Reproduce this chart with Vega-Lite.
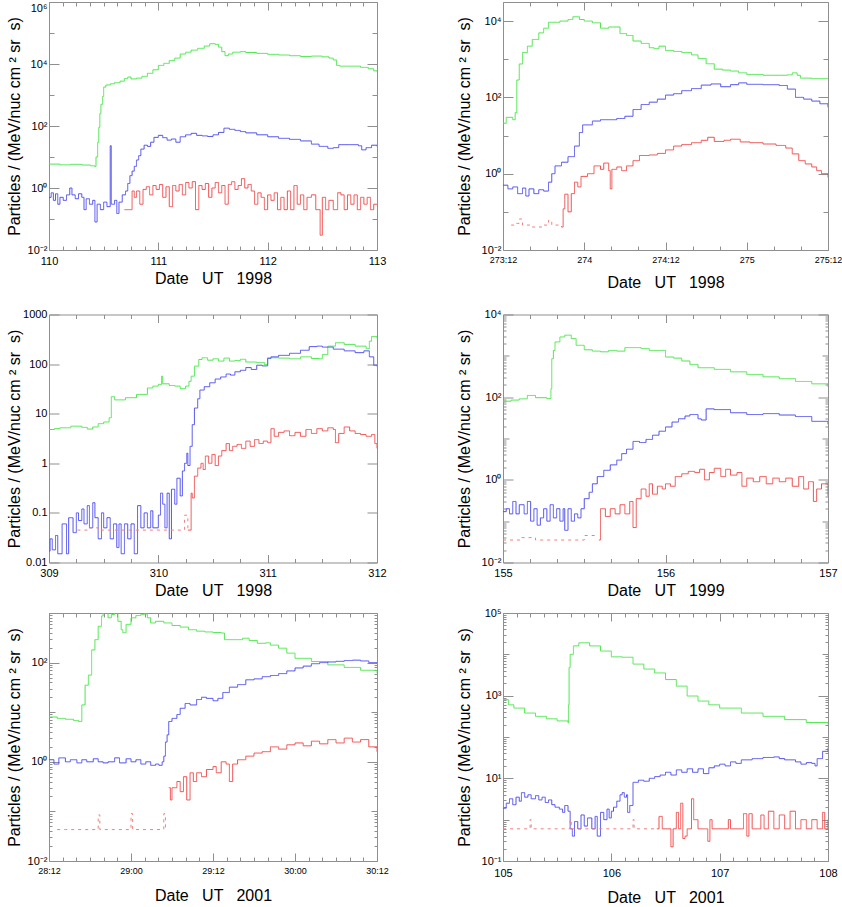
{
"$schema": "https://vega.github.io/schema/vega-lite/v6.json",
"padding": {"left": 5, "top": 1, "right": 0, "bottom": 0},
"config": {
 "font": "Liberation Sans",
 "view": {"stroke": "#8f8f8f", "strokeWidth": 1},
 "axis": {"domain": false, "grid": false, "tickColor": "#8f8f8f", "tickWidth": 1, "labelFont": "Liberation Sans", "labelFontSize": 11, "labelColor": "#000000", "titleFont": "Liberation Sans", "titleFontSize": 16, "titleFontWeight": "normal", "titleColor": "#000000", "labelOverlap": false, "labelFlush": false}
},
"spacing": 7,
"vconcat": [
{"spacing": 16.5, "vconcat": [
{"hconcat": [
{
"width": 328, "height": 248,
"data": {"values": [
{"t":110,"v":5.9,"s":"g"},{"t":110.1,"v":5.6,"s":"g"},{"t":110.2,"v":5.8,"s":"g"},{"t":110.3,"v":5.5,"s":"g"},{"t":110.38,"v":5.2,"s":"g"},{"t":110.42,"v":4.9,"s":"g"},{"t":110.43,"v":10,"s":"g"},{"t":110.445,"v":30,"s":"g"},{"t":110.455,"v":90,"s":"g"},{"t":110.465,"v":250,"s":"g"},{"t":110.475,"v":500,"s":"g"},{"t":110.49,"v":900,"s":"g"},{"t":110.5,"v":1800,"s":"g"},{"t":110.52,"v":2100,"s":"g"},{"t":110.56,"v":2300,"s":"g"},{"t":110.6,"v":2500,"s":"g"},{"t":110.65,"v":2800,"s":"g"},{"t":110.69,"v":3400,"s":"g"},{"t":110.72,"v":3800,"s":"g"},{"t":110.75,"v":3300,"s":"g"},{"t":110.8,"v":3500,"s":"g"},{"t":110.85,"v":4000,"s":"g"},{"t":110.9,"v":5000,"s":"g"},{"t":110.95,"v":6500,"s":"g"},{"t":111,"v":9000,"s":"g"},{"t":111.05,"v":10500,"s":"g"},{"t":111.1,"v":13000,"s":"g"},{"t":111.15,"v":15500,"s":"g"},{"t":111.2,"v":21000,"s":"g"},{"t":111.25,"v":24000,"s":"g"},{"t":111.3,"v":28000,"s":"g"},{"t":111.36,"v":32000,"s":"g"},{"t":111.42,"v":38000,"s":"g"},{"t":111.47,"v":45000,"s":"g"},{"t":111.52,"v":43000,"s":"g"},{"t":111.55,"v":35000,"s":"g"},{"t":111.58,"v":25000,"s":"g"},{"t":111.61,"v":18500,"s":"g"},{"t":111.64,"v":21000,"s":"g"},{"t":111.68,"v":24000,"s":"g"},{"t":111.75,"v":25000,"s":"g"},{"t":111.8,"v":23500,"s":"g"},{"t":111.9,"v":22000,"s":"g"},{"t":112,"v":20500,"s":"g"},{"t":112.1,"v":19500,"s":"g"},{"t":112.2,"v":18500,"s":"g"},{"t":112.3,"v":17500,"s":"g"},{"t":112.4,"v":18000,"s":"g"},{"t":112.5,"v":17000,"s":"g"},{"t":112.56,"v":15500,"s":"g"},{"t":112.6,"v":13500,"s":"g"},{"t":112.63,"v":9000,"s":"g"},{"t":112.66,"v":8500,"s":"g"},{"t":112.75,"v":8500,"s":"g"},{"t":112.85,"v":7800,"s":"g"},{"t":112.92,"v":7000,"s":"g"},{"t":112.97,"v":6000,"s":"g"},{"t":113,"v":5800,"s":"g"},
{"t":110,"v":0.5,"s":"b"},{"t":110.02,"v":0.7,"s":"b"},{"t":110.04,"v":0.4,"s":"b"},{"t":110.06,"v":0.65,"s":"b"},{"t":110.08,"v":0.3,"s":"b"},{"t":110.1,"v":0.5,"s":"b"},{"t":110.13,"v":0.4,"s":"b"},{"t":110.16,"v":0.6,"s":"b"},{"t":110.19,"v":1.0,"s":"b"},{"t":110.21,"v":0.6,"s":"b"},{"t":110.24,"v":0.45,"s":"b"},{"t":110.27,"v":0.65,"s":"b"},{"t":110.3,"v":0.5,"s":"b"},{"t":110.32,"v":0.2,"s":"b"},{"t":110.34,"v":0.45,"s":"b"},{"t":110.37,"v":0.3,"s":"b"},{"t":110.4,"v":0.4,"s":"b"},{"t":110.42,"v":0.08,"s":"b"},{"t":110.44,"v":0.3,"s":"b"},{"t":110.47,"v":0.2,"s":"b"},{"t":110.5,"v":0.35,"s":"b"},{"t":110.53,"v":0.25,"s":"b"},{"t":110.56,"v":23,"s":"b"},{"t":110.57,"v":0.3,"s":"b"},{"t":110.6,"v":0.4,"s":"b"},{"t":110.62,"v":0.15,"s":"b"},{"t":110.64,"v":0.35,"s":"b"},{"t":110.67,"v":0.6,"s":"b"},{"t":110.7,"v":0.8,"s":"b"},{"t":110.72,"v":1.4,"s":"b"},{"t":110.74,"v":2.5,"s":"b"},{"t":110.76,"v":3.5,"s":"b"},{"t":110.78,"v":5,"s":"b"},{"t":110.8,"v":8,"s":"b"},{"t":110.82,"v":11,"s":"b"},{"t":110.84,"v":18,"s":"b"},{"t":110.87,"v":24,"s":"b"},{"t":110.9,"v":22,"s":"b"},{"t":110.93,"v":30,"s":"b"},{"t":110.96,"v":43,"s":"b"},{"t":111,"v":50,"s":"b"},{"t":111.04,"v":42,"s":"b"},{"t":111.08,"v":35,"s":"b"},{"t":111.12,"v":38,"s":"b"},{"t":111.16,"v":30,"s":"b"},{"t":111.2,"v":45,"s":"b"},{"t":111.25,"v":52,"s":"b"},{"t":111.3,"v":58,"s":"b"},{"t":111.35,"v":50,"s":"b"},{"t":111.4,"v":48,"s":"b"},{"t":111.45,"v":46,"s":"b"},{"t":111.5,"v":52,"s":"b"},{"t":111.55,"v":62,"s":"b"},{"t":111.6,"v":85,"s":"b"},{"t":111.65,"v":78,"s":"b"},{"t":111.7,"v":72,"s":"b"},{"t":111.75,"v":66,"s":"b"},{"t":111.8,"v":60,"s":"b"},{"t":111.9,"v":52,"s":"b"},{"t":112,"v":45,"s":"b"},{"t":112.1,"v":40,"s":"b"},{"t":112.2,"v":37,"s":"b"},{"t":112.3,"v":33,"s":"b"},{"t":112.4,"v":26,"s":"b"},{"t":112.47,"v":22,"s":"b"},{"t":112.55,"v":19,"s":"b"},{"t":112.6,"v":20,"s":"b"},{"t":112.65,"v":25,"s":"b"},{"t":112.75,"v":25,"s":"b"},{"t":112.83,"v":23,"s":"b"},{"t":112.86,"v":17,"s":"b"},{"t":112.9,"v":20,"s":"b"},{"t":112.95,"v":24,"s":"b"},{"t":113,"v":22,"s":"b"},
{"t":110.69,"v":0.2,"s":"r"},{"t":110.74,"v":0.2,"s":"r"},{"t":110.76,"v":0.8,"s":"r"},{"t":110.78,"v":0.5,"s":"r"},{"t":110.8,"v":0.8,"s":"r"},{"t":110.83,"v":0.3,"s":"r"},{"t":110.86,"v":0.9,"s":"r"},{"t":110.89,"v":1.1,"s":"r"},{"t":110.92,"v":0.6,"s":"r"},{"t":110.95,"v":1.2,"s":"r"},{"t":110.98,"v":0.9,"s":"r"},{"t":111.01,"v":1.3,"s":"r"},{"t":111.04,"v":0.5,"s":"r"},{"t":111.07,"v":1.1,"s":"r"},{"t":111.1,"v":0.25,"s":"r"},{"t":111.13,"v":1.2,"s":"r"},{"t":111.16,"v":0.8,"s":"r"},{"t":111.19,"v":1.3,"s":"r"},{"t":111.22,"v":0.6,"s":"r"},{"t":111.25,"v":1.5,"s":"r"},{"t":111.28,"v":1.0,"s":"r"},{"t":111.31,"v":1.6,"s":"r"},{"t":111.34,"v":0.2,"s":"r"},{"t":111.37,"v":1.2,"s":"r"},{"t":111.4,"v":0.9,"s":"r"},{"t":111.43,"v":1.4,"s":"r"},{"t":111.46,"v":0.5,"s":"r"},{"t":111.49,"v":1.0,"s":"r"},{"t":111.52,"v":1.5,"s":"r"},{"t":111.55,"v":0.7,"s":"r"},{"t":111.58,"v":1.2,"s":"r"},{"t":111.61,"v":0.3,"s":"r"},{"t":111.64,"v":1.3,"s":"r"},{"t":111.67,"v":1.6,"s":"r"},{"t":111.7,"v":0.9,"s":"r"},{"t":111.73,"v":1.2,"s":"r"},{"t":111.76,"v":2.0,"s":"r"},{"t":111.79,"v":1.0,"s":"r"},{"t":111.82,"v":1.3,"s":"r"},{"t":111.85,"v":0.8,"s":"r"},{"t":111.88,"v":0.3,"s":"r"},{"t":111.91,"v":0.7,"s":"r"},{"t":111.94,"v":0.5,"s":"r"},{"t":111.97,"v":0.2,"s":"r"},{"t":112,"v":0.6,"s":"r"},{"t":112.03,"v":0.4,"s":"r"},{"t":112.06,"v":0.7,"s":"r"},{"t":112.09,"v":0.2,"s":"r"},{"t":112.12,"v":0.5,"s":"r"},{"t":112.15,"v":0.2,"s":"r"},{"t":112.18,"v":0.8,"s":"r"},{"t":112.21,"v":0.2,"s":"r"},{"t":112.24,"v":1.2,"s":"r"},{"t":112.27,"v":0.3,"s":"r"},{"t":112.3,"v":0.6,"s":"r"},{"t":112.33,"v":0.2,"s":"r"},{"t":112.36,"v":0.5,"s":"r"},{"t":112.4,"v":0.6,"s":"r"},{"t":112.44,"v":0.2,"s":"r"},{"t":112.48,"v":0.03,"s":"r"},{"t":112.5,"v":0.5,"s":"r"},{"t":112.53,"v":0.2,"s":"r"},{"t":112.56,"v":0.4,"s":"r"},{"t":112.6,"v":0.2,"s":"r"},{"t":112.64,"v":0.7,"s":"r"},{"t":112.67,"v":0.6,"s":"r"},{"t":112.7,"v":0.2,"s":"r"},{"t":112.73,"v":0.6,"s":"r"},{"t":112.76,"v":0.3,"s":"r"},{"t":112.79,"v":0.6,"s":"r"},{"t":112.82,"v":0.2,"s":"r"},{"t":112.85,"v":0.5,"s":"r"},{"t":112.88,"v":0.3,"s":"r"},{"t":112.91,"v":0.5,"s":"r"},{"t":112.94,"v":0.2,"s":"r"},{"t":112.97,"v":0.3,"s":"r"},{"t":113,"v":0.3,"s":"r"}
]},
"layer": [
{"mark": {"type": "line", "interpolate": "step-after", "strokeWidth": 1, "clip": true},
 "encoding": {
  "x": {"field": "t", "type": "quantitative", "scale": {"domain": [110, 113], "nice": false, "zero": false},
   "axis": {"orient": "bottom", "values": [110,110.125,110.25,110.375,110.5,110.625,110.75,110.875,111,111.125,111.25,111.375,111.5,111.625,111.75,111.875,112,112.125,112.25,112.375,112.5,112.625,112.75,112.875,113],
    "labelExpr": "datum.value == floor(datum.value) ? '' + datum.value : ''",
    "tickSize": {"condition": {"test": "datum.value == floor(datum.value)", "value": -8}, "value": -4},
    "labelPadding": 13, "title": "Date \u00a0 UT \u00a0 1998", "titleY": 28, "titleBaseline": "middle"}},
  "y": {"field": "v", "type": "quantitative", "scale": {"type": "log", "domain": [0.01, 1000000], "nice": false},
   "axis": {"orient": "left", "values": [0.01,0.1,1,10,100,1000,10000,100000,1000000],
    "labelExpr": "round(log(datum.value)/LN10) % 2 == 0 ? ['10⁻²','10⁻¹','10⁰','10¹','10²','10³','10⁴','10⁵','10⁶'][round(log(datum.value)/LN10)+2] : ''",
    "labelBaseline": {"condition": {"test": "datum.value > 100000", "value": "top"}, "value": "middle"},
    "tickSize": {"condition": {"test": "round(log(datum.value)/LN10) % 2 == 0", "value": -10}, "value": -5},
    "labelPadding": 12, "title": "Particles / (MeV/nuc cm ² sr \u00a0s)", "titleX": -34.5, "titleY": 124, "titleBaseline": "middle", "titleAngle": -90}},
  "color": {"field": "s", "type": "nominal", "scale": {"domain": ["g","b","r","rs"], "range": ["#4ce64c","#4d4df0","#f04d4d","#f08080"]}, "legend": null},
  "strokeDash": {"field": "s", "type": "nominal", "scale": {"domain": ["g","b","r","rs"], "range": [[1,0],[1,0],[1,0],[3,4]]}, "legend": null}
 }},
{"mark": {"type": "point", "opacity": 0},
 "encoding": {
  "x": {"field": "t", "type": "quantitative", "scale": {"domain": [110, 113], "nice": false, "zero": false},
   "axis": {"orient": "top", "values": [110,110.125,110.25,110.375,110.5,110.625,110.75,110.875,111,111.125,111.25,111.375,111.5,111.625,111.75,111.875,112,112.125,112.25,112.375,112.5,112.625,112.75,112.875,113], "labels": false, "title": null,
    "tickSize": {"condition": {"test": "datum.value == floor(datum.value)", "value": -8}, "value": -4}}},
  "y": {"field": "v", "type": "quantitative", "scale": {"type": "log", "domain": [0.01, 1000000], "nice": false},
   "axis": {"orient": "right", "values": [0.01,0.1,1,10,100,1000,10000,100000,1000000], "labels": false, "title": null,
    "tickSize": {"condition": {"test": "round(log(datum.value)/LN10) % 2 == 0", "value": -10}, "value": -5}}}
 }}
],
"resolve": {"axis": {"x": "independent", "y": "independent"}}
},
{
"width": 325, "height": 248,
"data": {"values": [
{"t":273.5,"v":21,"s":"g"},{"t":273.52,"v":30,"s":"g"},{"t":273.56,"v":26,"s":"g"},{"t":273.575,"v":40,"s":"g"},{"t":273.585,"v":285,"s":"g"},{"t":273.6,"v":750,"s":"g"},{"t":273.62,"v":1500,"s":"g"},{"t":273.65,"v":2200,"s":"g"},{"t":273.68,"v":3300,"s":"g"},{"t":273.72,"v":4900,"s":"g"},{"t":273.75,"v":6500,"s":"g"},{"t":273.78,"v":9300,"s":"g"},{"t":273.85,"v":10000,"s":"g"},{"t":273.9,"v":11000,"s":"g"},{"t":273.93,"v":13000,"s":"g"},{"t":273.97,"v":11000,"s":"g"},{"t":274,"v":10000,"s":"g"},{"t":274.05,"v":9000,"s":"g"},{"t":274.1,"v":6500,"s":"g"},{"t":274.15,"v":7000,"s":"g"},{"t":274.18,"v":7000,"s":"g"},{"t":274.22,"v":4700,"s":"g"},{"t":274.26,"v":4200,"s":"g"},{"t":274.3,"v":3000,"s":"g"},{"t":274.35,"v":2600,"s":"g"},{"t":274.4,"v":2000,"s":"g"},{"t":274.43,"v":1900,"s":"g"},{"t":274.46,"v":2200,"s":"g"},{"t":274.5,"v":1700,"s":"g"},{"t":274.55,"v":1600,"s":"g"},{"t":274.6,"v":1500,"s":"g"},{"t":274.66,"v":1300,"s":"g"},{"t":274.7,"v":1050,"s":"g"},{"t":274.75,"v":760,"s":"g"},{"t":274.8,"v":550,"s":"g"},{"t":274.85,"v":520,"s":"g"},{"t":274.9,"v":490,"s":"g"},{"t":274.95,"v":440,"s":"g"},{"t":275,"v":400,"s":"g"},{"t":275.1,"v":380,"s":"g"},{"t":275.2,"v":380,"s":"g"},{"t":275.25,"v":390,"s":"g"},{"t":275.28,"v":440,"s":"g"},{"t":275.31,"v":380,"s":"g"},{"t":275.33,"v":320,"s":"g"},{"t":275.4,"v":310,"s":"g"},{"t":275.5,"v":300,"s":"g"},
{"t":273.5,"v":0.5,"s":"b"},{"t":273.53,"v":0.4,"s":"b"},{"t":273.56,"v":0.45,"s":"b"},{"t":273.59,"v":0.3,"s":"b"},{"t":273.62,"v":0.42,"s":"b"},{"t":273.64,"v":0.26,"s":"b"},{"t":273.66,"v":0.4,"s":"b"},{"t":273.69,"v":0.3,"s":"b"},{"t":273.72,"v":0.38,"s":"b"},{"t":273.75,"v":0.35,"s":"b"},{"t":273.78,"v":0.6,"s":"b"},{"t":273.8,"v":1.0,"s":"b"},{"t":273.82,"v":1.6,"s":"b"},{"t":273.86,"v":2.0,"s":"b"},{"t":273.9,"v":2.8,"s":"b"},{"t":273.94,"v":5.3,"s":"b"},{"t":273.97,"v":12,"s":"b"},{"t":273.99,"v":19,"s":"b"},{"t":274.05,"v":24,"s":"b"},{"t":274.1,"v":26,"s":"b"},{"t":274.2,"v":28,"s":"b"},{"t":274.25,"v":32,"s":"b"},{"t":274.3,"v":48,"s":"b"},{"t":274.35,"v":65,"s":"b"},{"t":274.4,"v":75,"s":"b"},{"t":274.45,"v":90,"s":"b"},{"t":274.5,"v":115,"s":"b"},{"t":274.55,"v":125,"s":"b"},{"t":274.6,"v":150,"s":"b"},{"t":274.66,"v":170,"s":"b"},{"t":274.72,"v":210,"s":"b"},{"t":274.78,"v":225,"s":"b"},{"t":274.84,"v":190,"s":"b"},{"t":274.9,"v":215,"s":"b"},{"t":274.95,"v":240,"s":"b"},{"t":275,"v":220,"s":"b"},{"t":275.1,"v":215,"s":"b"},{"t":275.2,"v":205,"s":"b"},{"t":275.25,"v":165,"s":"b"},{"t":275.3,"v":100,"s":"b"},{"t":275.35,"v":90,"s":"b"},{"t":275.4,"v":80,"s":"b"},{"t":275.45,"v":68,"s":"b"},{"t":275.5,"v":55,"s":"b"},
{"t":273.55,"v":0.045,"s":"rs"},{"t":273.58,"v":0.05,"s":"rs"},{"t":273.6,"v":0.065,"s":"rs"},{"t":273.62,"v":0.045,"s":"rs"},{"t":273.68,"v":0.04,"s":"rs"},{"t":273.75,"v":0.045,"s":"rs"},{"t":273.78,"v":0.06,"s":"rs"},{"t":273.8,"v":0.045,"s":"rs"},{"t":273.86,"v":0.04,"s":"rs"},
{"t":273.86,"v":0.04,"s":"r"},{"t":273.87,"v":0.12,"s":"r"},{"t":273.88,"v":0.29,"s":"r"},{"t":273.9,"v":0.1,"s":"r"},{"t":273.92,"v":0.3,"s":"r"},{"t":273.94,"v":0.6,"s":"r"},{"t":273.96,"v":0.45,"s":"r"},{"t":273.98,"v":0.85,"s":"r"},{"t":274.02,"v":1.0,"s":"r"},{"t":274.06,"v":1.6,"s":"r"},{"t":274.1,"v":1.3,"s":"r"},{"t":274.12,"v":1.9,"s":"r"},{"t":274.15,"v":1.2,"s":"r"},{"t":274.16,"v":0.4,"s":"r"},{"t":274.17,"v":1.3,"s":"r"},{"t":274.2,"v":1.5,"s":"r"},{"t":274.23,"v":1.2,"s":"r"},{"t":274.26,"v":1.6,"s":"r"},{"t":274.3,"v":2.2,"s":"r"},{"t":274.34,"v":3.0,"s":"r"},{"t":274.4,"v":3.1,"s":"r"},{"t":274.45,"v":3.4,"s":"r"},{"t":274.5,"v":4.2,"s":"r"},{"t":274.55,"v":5.3,"s":"r"},{"t":274.6,"v":5.8,"s":"r"},{"t":274.66,"v":6.5,"s":"r"},{"t":274.72,"v":7.5,"s":"r"},{"t":274.76,"v":9.0,"s":"r"},{"t":274.8,"v":7.0,"s":"r"},{"t":274.86,"v":7.5,"s":"r"},{"t":274.9,"v":8.0,"s":"r"},{"t":274.96,"v":6.8,"s":"r"},{"t":275.02,"v":6.5,"s":"r"},{"t":275.1,"v":6.0,"s":"r"},{"t":275.18,"v":5.5,"s":"r"},{"t":275.24,"v":4.7,"s":"r"},{"t":275.28,"v":3.3,"s":"r"},{"t":275.32,"v":2.2,"s":"r"},{"t":275.36,"v":1.8,"s":"r"},{"t":275.4,"v":1.5,"s":"r"},{"t":275.43,"v":1.2,"s":"r"},{"t":275.46,"v":1.0,"s":"r"},{"t":275.5,"v":0.8,"s":"r"}
]},
"layer": [
{"mark": {"type": "line", "interpolate": "step-after", "strokeWidth": 1, "clip": true},
 "encoding": {
  "x": {"field": "t", "type": "quantitative", "scale": {"domain": [273.5, 275.5], "nice": false, "zero": false},
   "axis": {"orient": "bottom", "values": [273.5,273.6667,273.8333,274,274.1667,274.3333,274.5,274.6667,274.8333,275,275.1667,275.3333,275.5],
    "labelExpr": "abs(datum.value*2 - round(datum.value*2)) < 0.001 ? (datum.value == floor(datum.value) ? '' + datum.value : floor(datum.value) + ':12') : ''",
    "labelFontSize": 9,
    "tickSize": {"condition": {"test": "abs(datum.value*2 - round(datum.value*2)) < 0.001", "value": -8}, "value": -4},
    "labelPadding": 13, "title": "Date \u00a0 UT \u00a0 1998", "titleY": 32, "titleBaseline": "middle"}},
  "y": {"field": "v", "type": "quantitative", "scale": {"type": "log", "domain": [0.01, 31623], "nice": false},
   "axis": {"orient": "left", "values": [0.01,0.1,1,10,100,1000,10000],
    "labelExpr": "round(log(datum.value)/LN10) % 2 == 0 ? ['10⁻²','10⁻¹','10⁰','10¹','10²','10³','10⁴','10⁵','10⁶'][round(log(datum.value)/LN10)+2] : ''",
    "tickSize": {"condition": {"test": "round(log(datum.value)/LN10) % 2 == 0", "value": -10}, "value": -5},
    "labelPadding": 12, "title": "Particles / (MeV/nuc cm ² sr \u00a0s)", "titleX": -39, "titleY": 124, "titleBaseline": "middle", "titleAngle": -90}},
  "color": {"field": "s", "type": "nominal", "scale": {"domain": ["g","b","r","rs"], "range": ["#4ce64c","#4d4df0","#f04d4d","#f08080"]}, "legend": null},
  "strokeDash": {"field": "s", "type": "nominal", "scale": {"domain": ["g","b","r","rs"], "range": [[1,0],[1,0],[1,0],[3,4]]}, "legend": null}
 }},
{"mark": {"type": "point", "opacity": 0},
 "encoding": {
  "x": {"field": "t", "type": "quantitative", "scale": {"domain": [273.5, 275.5], "nice": false, "zero": false},
   "axis": {"orient": "top", "values": [273.5,273.6667,273.8333,274,274.1667,274.3333,274.5,274.6667,274.8333,275,275.1667,275.3333,275.5], "labels": false, "title": null,
    "tickSize": {"condition": {"test": "abs(datum.value*2 - round(datum.value*2)) < 0.001", "value": -8}, "value": -4}}},
  "y": {"field": "v", "type": "quantitative", "scale": {"type": "log", "domain": [0.01, 31623], "nice": false},
   "axis": {"orient": "right", "values": [0.01,0.1,1,10,100,1000,10000], "labels": false, "title": null,
    "tickSize": {"condition": {"test": "round(log(datum.value)/LN10) % 2 == 0", "value": -10}, "value": -5}}}
 }}
],
"resolve": {"axis": {"x": "independent", "y": "independent"}}
}
], "spacing": 126, "bounds": "flush"},
{"hconcat": [
{
"width": 328, "height": 248,
"data": {"values": [
{"t":309,"v":4.8,"s":"g"},{"t":309.05,"v":5.0,"s":"g"},{"t":309.1,"v":5.2,"s":"g"},{"t":309.2,"v":5.6,"s":"g"},{"t":309.3,"v":5.3,"s":"g"},{"t":309.35,"v":4.9,"s":"g"},{"t":309.4,"v":5.4,"s":"g"},{"t":309.45,"v":6.3,"s":"g"},{"t":309.5,"v":6.8,"s":"g"},{"t":309.55,"v":8.3,"s":"g"},{"t":309.57,"v":22,"s":"g"},{"t":309.6,"v":19,"s":"g"},{"t":309.7,"v":21,"s":"g"},{"t":309.8,"v":24.5,"s":"g"},{"t":309.9,"v":33,"s":"g"},{"t":309.95,"v":36,"s":"g"},{"t":310,"v":39,"s":"g"},{"t":310.03,"v":57,"s":"g"},{"t":310.04,"v":40,"s":"g"},{"t":310.1,"v":37,"s":"g"},{"t":310.15,"v":36,"s":"g"},{"t":310.2,"v":32,"s":"g"},{"t":310.25,"v":36,"s":"g"},{"t":310.28,"v":45,"s":"g"},{"t":310.3,"v":57,"s":"g"},{"t":310.33,"v":91,"s":"g"},{"t":310.37,"v":124,"s":"g"},{"t":310.4,"v":134,"s":"g"},{"t":310.45,"v":120,"s":"g"},{"t":310.5,"v":128,"s":"g"},{"t":310.55,"v":115,"s":"g"},{"t":310.6,"v":132,"s":"g"},{"t":310.65,"v":115,"s":"g"},{"t":310.7,"v":118,"s":"g"},{"t":310.75,"v":125,"s":"g"},{"t":310.8,"v":110,"s":"g"},{"t":310.9,"v":108,"s":"g"},{"t":310.97,"v":98,"s":"g"},{"t":311,"v":134,"s":"g"},{"t":311.1,"v":132,"s":"g"},{"t":311.2,"v":128,"s":"g"},{"t":311.3,"v":140,"s":"g"},{"t":311.4,"v":130,"s":"g"},{"t":311.47,"v":128,"s":"g"},{"t":311.5,"v":156,"s":"g"},{"t":311.55,"v":230,"s":"g"},{"t":311.62,"v":270,"s":"g"},{"t":311.7,"v":250,"s":"g"},{"t":311.8,"v":230,"s":"g"},{"t":311.9,"v":204,"s":"g"},{"t":311.93,"v":290,"s":"g"},{"t":311.95,"v":360,"s":"g"},{"t":312,"v":330,"s":"g"},
{"t":309,"v":0.017,"s":"b"},{"t":309.01,"v":0.03,"s":"b"},{"t":309.03,"v":0.018,"s":"b"},{"t":309.06,"v":0.035,"s":"b"},{"t":309.08,"v":0.015,"s":"b"},{"t":309.12,"v":0.06,"s":"b"},{"t":309.16,"v":0.015,"s":"b"},{"t":309.18,"v":0.08,"s":"b"},{"t":309.22,"v":0.04,"s":"b"},{"t":309.25,"v":0.1,"s":"b"},{"t":309.27,"v":0.07,"s":"b"},{"t":309.3,"v":0.12,"s":"b"},{"t":309.32,"v":0.06,"s":"b"},{"t":309.35,"v":0.14,"s":"b"},{"t":309.37,"v":0.05,"s":"b"},{"t":309.4,"v":0.16,"s":"b"},{"t":309.42,"v":0.08,"s":"b"},{"t":309.45,"v":0.03,"s":"b"},{"t":309.48,"v":0.1,"s":"b"},{"t":309.5,"v":0.05,"s":"b"},{"t":309.53,"v":0.08,"s":"b"},{"t":309.56,"v":0.03,"s":"b"},{"t":309.59,"v":0.06,"s":"b"},{"t":309.62,"v":0.02,"s":"b"},{"t":309.64,"v":0.06,"s":"b"},{"t":309.66,"v":0.015,"s":"b"},{"t":309.69,"v":0.06,"s":"b"},{"t":309.72,"v":0.03,"s":"b"},{"t":309.75,"v":0.06,"s":"b"},{"t":309.78,"v":0.015,"s":"b"},{"t":309.81,"v":0.14,"s":"b"},{"t":309.84,"v":0.05,"s":"b"},{"t":309.87,"v":0.1,"s":"b"},{"t":309.9,"v":0.05,"s":"b"},{"t":309.93,"v":0.11,"s":"b"},{"t":309.95,"v":0.05,"s":"b"},{"t":310,"v":0.09,"s":"b"},{"t":310.02,"v":0.25,"s":"b"},{"t":310.04,"v":0.15,"s":"b"},{"t":310.06,"v":0.05,"s":"b"},{"t":310.08,"v":0.25,"s":"b"},{"t":310.1,"v":0.03,"s":"b"},{"t":310.12,"v":0.3,"s":"b"},{"t":310.15,"v":0.15,"s":"b"},{"t":310.17,"v":0.5,"s":"b"},{"t":310.2,"v":0.22,"s":"b"},{"t":310.22,"v":0.7,"s":"b"},{"t":310.24,"v":1.0,"s":"b"},{"t":310.26,"v":1.6,"s":"b"},{"t":310.27,"v":0.9,"s":"b"},{"t":310.29,"v":2.2,"s":"b"},{"t":310.31,"v":6,"s":"b"},{"t":310.33,"v":13,"s":"b"},{"t":310.36,"v":20,"s":"b"},{"t":310.38,"v":30,"s":"b"},{"t":310.42,"v":35,"s":"b"},{"t":310.47,"v":42,"s":"b"},{"t":310.52,"v":50,"s":"b"},{"t":310.57,"v":55,"s":"b"},{"t":310.62,"v":63,"s":"b"},{"t":310.66,"v":60,"s":"b"},{"t":310.7,"v":70,"s":"b"},{"t":310.75,"v":75,"s":"b"},{"t":310.8,"v":85,"s":"b"},{"t":310.85,"v":78,"s":"b"},{"t":310.9,"v":95,"s":"b"},{"t":310.95,"v":92,"s":"b"},{"t":311,"v":130,"s":"b"},{"t":311.03,"v":140,"s":"b"},{"t":311.1,"v":150,"s":"b"},{"t":311.2,"v":165,"s":"b"},{"t":311.3,"v":190,"s":"b"},{"t":311.38,"v":225,"s":"b"},{"t":311.45,"v":230,"s":"b"},{"t":311.5,"v":220,"s":"b"},{"t":311.6,"v":200,"s":"b"},{"t":311.7,"v":185,"s":"b"},{"t":311.8,"v":170,"s":"b"},{"t":311.88,"v":185,"s":"b"},{"t":311.93,"v":140,"s":"b"},{"t":311.97,"v":95,"s":"b"},{"t":312,"v":90,"s":"b"},
{"t":309.26,"v":0.045,"s":"rs"},{"t":309.35,"v":0.05,"s":"rs"},{"t":309.45,"v":0.045,"s":"rs"},{"t":309.7,"v":0.045,"s":"rs"},{"t":309.9,"v":0.045,"s":"rs"},{"t":310.05,"v":0.045,"s":"rs"},{"t":310.2,"v":0.045,"s":"rs"},{"t":310.24,"v":0.09,"s":"rs"},{"t":310.27,"v":0.045,"s":"rs"},
{"t":310.27,"v":0.045,"s":"r"},{"t":310.3,"v":0.25,"s":"r"},{"t":310.31,"v":0.2,"s":"r"},{"t":310.33,"v":0.55,"s":"r"},{"t":310.36,"v":0.8,"s":"r"},{"t":310.39,"v":1.0,"s":"r"},{"t":310.41,"v":0.75,"s":"r"},{"t":310.43,"v":1.4,"s":"r"},{"t":310.46,"v":1.0,"s":"r"},{"t":310.49,"v":1.5,"s":"r"},{"t":310.52,"v":0.9,"s":"r"},{"t":310.55,"v":1.4,"s":"r"},{"t":310.58,"v":1.8,"s":"r"},{"t":310.62,"v":2.5,"s":"r"},{"t":310.65,"v":1.8,"s":"r"},{"t":310.68,"v":2.2,"s":"r"},{"t":310.72,"v":2.4,"s":"r"},{"t":310.76,"v":2.0,"s":"r"},{"t":310.8,"v":2.8,"s":"r"},{"t":310.84,"v":2.2,"s":"r"},{"t":310.88,"v":3.0,"s":"r"},{"t":310.92,"v":2.5,"s":"r"},{"t":310.96,"v":2.8,"s":"r"},{"t":311,"v":2.6,"s":"r"},{"t":311.03,"v":5.0,"s":"r"},{"t":311.06,"v":3.5,"s":"r"},{"t":311.1,"v":4.2,"s":"r"},{"t":311.15,"v":4.5,"s":"r"},{"t":311.2,"v":3.6,"s":"r"},{"t":311.25,"v":4.2,"s":"r"},{"t":311.3,"v":3.5,"s":"r"},{"t":311.35,"v":4.8,"s":"r"},{"t":311.4,"v":4.0,"s":"r"},{"t":311.45,"v":5.0,"s":"r"},{"t":311.5,"v":4.5,"s":"r"},{"t":311.55,"v":5.2,"s":"r"},{"t":311.6,"v":4.8,"s":"r"},{"t":311.62,"v":2.6,"s":"r"},{"t":311.65,"v":4.0,"s":"r"},{"t":311.7,"v":5.4,"s":"r"},{"t":311.75,"v":4.5,"s":"r"},{"t":311.8,"v":4.0,"s":"r"},{"t":311.85,"v":3.8,"s":"r"},{"t":311.9,"v":3.5,"s":"r"},{"t":311.95,"v":3.8,"s":"r"},{"t":311.98,"v":2.5,"s":"r"},{"t":312,"v":2.0,"s":"r"}
]},
"layer": [
{"mark": {"type": "line", "interpolate": "step-after", "strokeWidth": 1, "clip": true},
 "encoding": {
  "x": {"field": "t", "type": "quantitative", "scale": {"domain": [309, 312], "nice": false, "zero": false},
   "axis": {"orient": "bottom", "values": [309,309.25,309.5,309.75,310,310.25,310.5,310.75,311,311.25,311.5,311.75,312],
    "labelExpr": "datum.value == floor(datum.value) ? '' + datum.value : ''",
    "tickSize": {"condition": {"test": "datum.value == floor(datum.value)", "value": -8}, "value": -4},
    "labelPadding": 13, "title": "Date \u00a0 UT \u00a0 1998", "titleY": 28, "titleBaseline": "middle"}},
  "y": {"field": "v", "type": "quantitative", "scale": {"type": "log", "domain": [0.01, 1000], "nice": false},
   "axis": {"orient": "left", "values": [0.01,0.1,1,10,100,1000],
    "labelExpr": "datum.value >= 1 ? format(datum.value, 'd') : format(datum.value, '.2~f')",
    "tickSize": -10,
    "labelPadding": 12, "title": "Particles / (MeV/nuc cm ² sr \u00a0s)", "titleX": -34.5, "titleY": 124, "titleBaseline": "middle", "titleAngle": -90}},
  "color": {"field": "s", "type": "nominal", "scale": {"domain": ["g","b","r","rs"], "range": ["#5ae85a","#7070f0","#f08080","#f5a0a0"]}, "legend": null},
  "strokeDash": {"field": "s", "type": "nominal", "scale": {"domain": ["g","b","r","rs"], "range": [[1,0],[1,0],[1,0],[3,4]]}, "legend": null}
 }},
{"mark": {"type": "point", "opacity": 0},
 "encoding": {
  "x": {"field": "t", "type": "quantitative", "scale": {"domain": [309, 312], "nice": false, "zero": false},
   "axis": {"orient": "top", "values": [309,309.25,309.5,309.75,310,310.25,310.5,310.75,311,311.25,311.5,311.75,312], "labels": false, "title": null,
    "tickSize": {"condition": {"test": "datum.value == floor(datum.value)", "value": -8}, "value": -4}}},
  "y": {"field": "v", "type": "quantitative", "scale": {"type": "log", "domain": [0.01, 1000], "nice": false},
   "axis": {"orient": "right", "values": [0.01,0.1,1,10,100,1000], "labels": false, "title": null, "tickSize": -10}}
 }}
],
"resolve": {"axis": {"x": "independent", "y": "independent"}}
},
{
"width": 325, "height": 248,
"data": {"values": [
{"t":155,"v":80,"s":"g"},{"t":155.05,"v":85,"s":"g"},{"t":155.1,"v":91,"s":"g"},{"t":155.15,"v":110,"s":"g"},{"t":155.2,"v":97,"s":"g"},{"t":155.27,"v":92,"s":"g"},{"t":155.295,"v":160,"s":"g"},{"t":155.3,"v":850,"s":"g"},{"t":155.31,"v":1350,"s":"g"},{"t":155.32,"v":2170,"s":"g"},{"t":155.35,"v":2870,"s":"g"},{"t":155.38,"v":3160,"s":"g"},{"t":155.42,"v":2600,"s":"g"},{"t":155.45,"v":1800,"s":"g"},{"t":155.5,"v":1400,"s":"g"},{"t":155.55,"v":1300,"s":"g"},{"t":155.6,"v":1250,"s":"g"},{"t":155.65,"v":1350,"s":"g"},{"t":155.7,"v":1300,"s":"g"},{"t":155.75,"v":1580,"s":"g"},{"t":155.8,"v":1580,"s":"g"},{"t":155.85,"v":1500,"s":"g"},{"t":155.9,"v":1350,"s":"g"},{"t":156,"v":935,"s":"g"},{"t":156.05,"v":880,"s":"g"},{"t":156.1,"v":750,"s":"g"},{"t":156.15,"v":620,"s":"g"},{"t":156.2,"v":515,"s":"g"},{"t":156.3,"v":470,"s":"g"},{"t":156.4,"v":410,"s":"g"},{"t":156.5,"v":355,"s":"g"},{"t":156.6,"v":310,"s":"g"},{"t":156.7,"v":280,"s":"g"},{"t":156.8,"v":240,"s":"g"},{"t":156.9,"v":210,"s":"g"},{"t":157,"v":175,"s":"g"},
{"t":155,"v":0.17,"s":"b"},{"t":155.02,"v":0.2,"s":"b"},{"t":155.04,"v":0.15,"s":"b"},{"t":155.06,"v":0.3,"s":"b"},{"t":155.08,"v":0.15,"s":"b"},{"t":155.1,"v":0.25,"s":"b"},{"t":155.13,"v":0.15,"s":"b"},{"t":155.15,"v":0.3,"s":"b"},{"t":155.17,"v":0.1,"s":"b"},{"t":155.19,"v":0.2,"s":"b"},{"t":155.21,"v":0.08,"s":"b"},{"t":155.23,"v":0.12,"s":"b"},{"t":155.25,"v":0.2,"s":"b"},{"t":155.27,"v":0.1,"s":"b"},{"t":155.29,"v":0.25,"s":"b"},{"t":155.31,"v":0.12,"s":"b"},{"t":155.33,"v":0.2,"s":"b"},{"t":155.35,"v":0.1,"s":"b"},{"t":155.37,"v":0.2,"s":"b"},{"t":155.38,"v":0.06,"s":"b"},{"t":155.4,"v":0.2,"s":"b"},{"t":155.42,"v":0.1,"s":"b"},{"t":155.44,"v":0.15,"s":"b"},{"t":155.46,"v":0.12,"s":"b"},{"t":155.48,"v":0.2,"s":"b"},{"t":155.5,"v":0.35,"s":"b"},{"t":155.53,"v":0.5,"s":"b"},{"t":155.55,"v":0.8,"s":"b"},{"t":155.58,"v":1.2,"s":"b"},{"t":155.62,"v":1.7,"s":"b"},{"t":155.66,"v":2.3,"s":"b"},{"t":155.7,"v":3.0,"s":"b"},{"t":155.73,"v":4.3,"s":"b"},{"t":155.76,"v":5.5,"s":"b"},{"t":155.8,"v":8.5,"s":"b"},{"t":155.84,"v":8.0,"s":"b"},{"t":155.88,"v":9.5,"s":"b"},{"t":155.92,"v":12,"s":"b"},{"t":155.96,"v":15,"s":"b"},{"t":156,"v":19,"s":"b"},{"t":156.04,"v":25,"s":"b"},{"t":156.08,"v":30,"s":"b"},{"t":156.12,"v":35,"s":"b"},{"t":156.15,"v":38,"s":"b"},{"t":156.2,"v":30,"s":"b"},{"t":156.22,"v":28,"s":"b"},{"t":156.25,"v":52,"s":"b"},{"t":156.3,"v":50,"s":"b"},{"t":156.4,"v":42,"s":"b"},{"t":156.5,"v":38,"s":"b"},{"t":156.6,"v":40,"s":"b"},{"t":156.7,"v":37,"s":"b"},{"t":156.8,"v":34,"s":"b"},{"t":156.9,"v":26,"s":"b"},{"t":157,"v":22,"s":"b"},
{"t":155,"v":0.035,"s":"rs"},{"t":155.1,"v":0.035,"s":"rs"},{"t":155.11,"v":0.04,"s":"rs"},{"t":155.2,"v":0.035,"s":"rs"},{"t":155.3,"v":0.035,"s":"rs"},{"t":155.4,"v":0.035,"s":"rs"},{"t":155.5,"v":0.045,"s":"rs"},{"t":155.58,"v":0.045,"s":"rs"},
{"t":155.59,"v":0.035,"s":"r"},{"t":155.6,"v":0.2,"s":"r"},{"t":155.63,"v":0.13,"s":"r"},{"t":155.66,"v":0.2,"s":"r"},{"t":155.69,"v":0.15,"s":"r"},{"t":155.72,"v":0.25,"s":"r"},{"t":155.75,"v":0.15,"s":"r"},{"t":155.78,"v":0.3,"s":"r"},{"t":155.8,"v":0.07,"s":"r"},{"t":155.82,"v":0.35,"s":"r"},{"t":155.85,"v":0.6,"s":"r"},{"t":155.88,"v":0.4,"s":"r"},{"t":155.9,"v":0.8,"s":"r"},{"t":155.92,"v":0.45,"s":"r"},{"t":155.95,"v":0.7,"s":"r"},{"t":155.98,"v":0.6,"s":"r"},{"t":156,"v":0.8,"s":"r"},{"t":156.03,"v":0.7,"s":"r"},{"t":156.06,"v":1.2,"s":"r"},{"t":156.1,"v":1.4,"s":"r"},{"t":156.14,"v":1.6,"s":"r"},{"t":156.18,"v":1.5,"s":"r"},{"t":156.21,"v":1.8,"s":"r"},{"t":156.24,"v":1.0,"s":"r"},{"t":156.27,"v":1.5,"s":"r"},{"t":156.3,"v":1.9,"s":"r"},{"t":156.34,"v":1.2,"s":"r"},{"t":156.37,"v":1.8,"s":"r"},{"t":156.4,"v":1.3,"s":"r"},{"t":156.44,"v":1.5,"s":"r"},{"t":156.47,"v":0.7,"s":"r"},{"t":156.5,"v":1.1,"s":"r"},{"t":156.54,"v":0.9,"s":"r"},{"t":156.58,"v":1.2,"s":"r"},{"t":156.62,"v":0.8,"s":"r"},{"t":156.66,"v":1.1,"s":"r"},{"t":156.7,"v":0.9,"s":"r"},{"t":156.74,"v":1.1,"s":"r"},{"t":156.78,"v":0.7,"s":"r"},{"t":156.82,"v":1.2,"s":"r"},{"t":156.85,"v":0.6,"s":"r"},{"t":156.88,"v":0.9,"s":"r"},{"t":156.91,"v":0.3,"s":"r"},{"t":156.93,"v":0.6,"s":"r"},{"t":156.96,"v":0.8,"s":"r"},{"t":157,"v":0.4,"s":"r"}
]},
"layer": [
{"mark": {"type": "line", "interpolate": "step-after", "strokeWidth": 1, "clip": true},
 "encoding": {
  "x": {"field": "t", "type": "quantitative", "scale": {"domain": [155, 157], "nice": false, "zero": false},
   "axis": {"orient": "bottom", "values": [155,155.1667,155.3333,155.5,155.6667,155.8333,156,156.1667,156.3333,156.5,156.6667,156.8333,157],
    "labelExpr": "datum.value == floor(datum.value) ? '' + datum.value : ''",
    "tickSize": {"condition": {"test": "datum.value == floor(datum.value)", "value": -8}, "value": -4},
    "labelPadding": 13, "title": "Date \u00a0 UT \u00a0 1999", "titleY": 28, "titleBaseline": "middle"}},
  "y": {"field": "v", "type": "quantitative", "scale": {"type": "log", "domain": [0.01, 10000], "nice": false},
   "axis": {"orient": "left", "values": [0.01,0.02,0.03,0.04,0.05,0.06,0.07,0.08,0.09,0.1,0.2,0.3,0.4,0.5,0.6,0.7,0.8,0.9,1,2,3,4,5,6,7,8,9,10,20,30,40,50,60,70,80,90,100,200,300,400,500,600,700,800,900,1000,2000,3000,4000,5000,6000,7000,8000,9000,10000],
    "labelExpr": "abs(log(datum.value)/LN10 - round(log(datum.value)/LN10)) < 0.001 && round(log(datum.value)/LN10) % 2 == 0 ? ['10⁻²','10⁻¹','10⁰','10¹','10²','10³','10⁴','10⁵','10⁶'][round(log(datum.value)/LN10)+2] : ''",
    "tickSize": {"condition": [{"test": "abs(log(datum.value)/LN10 - round(log(datum.value)/LN10)) < 0.001 && round(log(datum.value)/LN10) % 2 == 0", "value": -10}, {"test": "abs(log(datum.value)/LN10 - round(log(datum.value)/LN10)) < 0.001", "value": -6}], "value": -3},
    "labelPadding": 12, "title": "Particles / (MeV/nuc cm ² sr \u00a0s)", "titleX": -39, "titleY": 124, "titleBaseline": "middle", "titleAngle": -90}},
  "color": {"field": "s", "type": "nominal", "scale": {"domain": ["g","b","r","rs"], "range": ["#4ce64c","#4d4df0","#f04d4d","#f08080"]}, "legend": null},
  "strokeDash": {"field": "s", "type": "nominal", "scale": {"domain": ["g","b","r","rs"], "range": [[1,0],[1,0],[1,0],[3,4]]}, "legend": null}
 }},
{"mark": {"type": "point", "opacity": 0},
 "encoding": {
  "x": {"field": "t", "type": "quantitative", "scale": {"domain": [155, 157], "nice": false, "zero": false},
   "axis": {"orient": "top", "values": [155,155.1667,155.3333,155.5,155.6667,155.8333,156,156.1667,156.3333,156.5,156.6667,156.8333,157], "labels": false, "title": null,
    "tickSize": {"condition": {"test": "datum.value == floor(datum.value)", "value": -8}, "value": -4}}},
  "y": {"field": "v", "type": "quantitative", "scale": {"type": "log", "domain": [0.01, 10000], "nice": false},
   "axis": {"orient": "right", "values": [0.01,0.02,0.03,0.04,0.05,0.06,0.07,0.08,0.09,0.1,0.2,0.3,0.4,0.5,0.6,0.7,0.8,0.9,1,2,3,4,5,6,7,8,9,10,20,30,40,50,60,70,80,90,100,200,300,400,500,600,700,800,900,1000,2000,3000,4000,5000,6000,7000,8000,9000,10000], "labels": false, "title": null,
    "tickSize": {"condition": [{"test": "abs(log(datum.value)/LN10 - round(log(datum.value)/LN10)) < 0.001 && round(log(datum.value)/LN10) % 2 == 0", "value": -10}, {"test": "abs(log(datum.value)/LN10 - round(log(datum.value)/LN10)) < 0.001", "value": -6}], "value": -3}}}
 }}
],
"resolve": {"axis": {"x": "independent", "y": "independent"}}
}
], "spacing": 126, "bounds": "flush"}
]},
{"hconcat": [
{
"width": 328, "height": 248,
"data": {"values": [
{"t":28.5,"v":8,"s":"g"},{"t":28.55,"v":7.5,"s":"g"},{"t":28.6,"v":7.2,"s":"g"},{"t":28.65,"v":6.8,"s":"g"},{"t":28.68,"v":6.5,"s":"g"},{"t":28.7,"v":14,"s":"g"},{"t":28.72,"v":35,"s":"g"},{"t":28.74,"v":56,"s":"g"},{"t":28.76,"v":180,"s":"g"},{"t":28.78,"v":290,"s":"g"},{"t":28.8,"v":540,"s":"g"},{"t":28.82,"v":870,"s":"g"},{"t":28.83,"v":1150,"s":"g"},{"t":28.86,"v":800,"s":"g"},{"t":28.88,"v":930,"s":"g"},{"t":28.9,"v":1150,"s":"g"},{"t":28.92,"v":680,"s":"g"},{"t":28.94,"v":460,"s":"g"},{"t":28.95,"v":400,"s":"g"},{"t":28.97,"v":590,"s":"g"},{"t":29,"v":800,"s":"g"},{"t":29.03,"v":890,"s":"g"},{"t":29.06,"v":930,"s":"g"},{"t":29.08,"v":960,"s":"g"},{"t":29.1,"v":800,"s":"g"},{"t":29.12,"v":630,"s":"g"},{"t":29.15,"v":680,"s":"g"},{"t":29.2,"v":630,"s":"g"},{"t":29.25,"v":560,"s":"g"},{"t":29.3,"v":520,"s":"g"},{"t":29.35,"v":460,"s":"g"},{"t":29.4,"v":430,"s":"g"},{"t":29.45,"v":415,"s":"g"},{"t":29.5,"v":405,"s":"g"},{"t":29.55,"v":395,"s":"g"},{"t":29.57,"v":290,"s":"g"},{"t":29.65,"v":290,"s":"g"},{"t":29.68,"v":310,"s":"g"},{"t":29.72,"v":280,"s":"g"},{"t":29.77,"v":245,"s":"g"},{"t":29.82,"v":250,"s":"g"},{"t":29.85,"v":225,"s":"g"},{"t":29.9,"v":195,"s":"g"},{"t":29.95,"v":155,"s":"g"},{"t":30,"v":122,"s":"g"},{"t":30.1,"v":105,"s":"g"},{"t":30.2,"v":90,"s":"g"},{"t":30.3,"v":80,"s":"g"},{"t":30.4,"v":70,"s":"g"},{"t":30.5,"v":61,"s":"g"},
{"t":28.5,"v":1.1,"s":"b"},{"t":28.53,"v":0.9,"s":"b"},{"t":28.56,"v":1.2,"s":"b"},{"t":28.6,"v":1.0,"s":"b"},{"t":28.63,"v":1.1,"s":"b"},{"t":28.67,"v":0.95,"s":"b"},{"t":28.7,"v":1.1,"s":"b"},{"t":28.73,"v":1.0,"s":"b"},{"t":28.77,"v":1.15,"s":"b"},{"t":28.8,"v":1.0,"s":"b"},{"t":28.83,"v":0.95,"s":"b"},{"t":28.86,"v":1.0,"s":"b"},{"t":28.9,"v":1.2,"s":"b"},{"t":28.93,"v":0.95,"s":"b"},{"t":28.97,"v":1.15,"s":"b"},{"t":29,"v":1.0,"s":"b"},{"t":29.03,"v":1.1,"s":"b"},{"t":29.06,"v":0.9,"s":"b"},{"t":29.09,"v":1.0,"s":"b"},{"t":29.12,"v":0.85,"s":"b"},{"t":29.15,"v":0.9,"s":"b"},{"t":29.17,"v":0.85,"s":"b"},{"t":29.19,"v":1.0,"s":"b"},{"t":29.2,"v":1.3,"s":"b"},{"t":29.21,"v":2.5,"s":"b"},{"t":29.22,"v":3.5,"s":"b"},{"t":29.23,"v":6.5,"s":"b"},{"t":29.25,"v":7.5,"s":"b"},{"t":29.28,"v":9,"s":"b"},{"t":29.3,"v":12,"s":"b"},{"t":29.33,"v":15,"s":"b"},{"t":29.36,"v":14,"s":"b"},{"t":29.4,"v":18,"s":"b"},{"t":29.43,"v":20,"s":"b"},{"t":29.46,"v":19,"s":"b"},{"t":29.5,"v":17,"s":"b"},{"t":29.53,"v":19,"s":"b"},{"t":29.56,"v":25,"s":"b"},{"t":29.6,"v":32,"s":"b"},{"t":29.65,"v":36,"s":"b"},{"t":29.7,"v":45,"s":"b"},{"t":29.75,"v":47,"s":"b"},{"t":29.8,"v":52,"s":"b"},{"t":29.85,"v":55,"s":"b"},{"t":29.9,"v":60,"s":"b"},{"t":29.95,"v":68,"s":"b"},{"t":30,"v":78,"s":"b"},{"t":30.05,"v":85,"s":"b"},{"t":30.1,"v":95,"s":"b"},{"t":30.15,"v":100,"s":"b"},{"t":30.2,"v":103,"s":"b"},{"t":30.25,"v":106,"s":"b"},{"t":30.3,"v":110,"s":"b"},{"t":30.35,"v":112,"s":"b"},{"t":30.4,"v":108,"s":"b"},{"t":30.45,"v":100,"s":"b"},{"t":30.5,"v":98,"s":"b"},
{"t":28.55,"v":0.043,"s":"rs"},{"t":28.6,"v":0.043,"s":"rs"},{"t":28.8,"v":0.085,"s":"rs"},{"t":28.81,"v":0.043,"s":"rs"},{"t":28.9,"v":0.043,"s":"rs"},{"t":29,"v":0.09,"s":"rs"},{"t":29.01,"v":0.043,"s":"rs"},{"t":29.15,"v":0.043,"s":"rs"},{"t":29.2,"v":0.09,"s":"rs"},{"t":29.21,"v":0.043,"s":"rs"},
{"t":29.23,"v":0.3,"s":"r"},{"t":29.24,"v":0.17,"s":"r"},{"t":29.25,"v":0.3,"s":"r"},{"t":29.28,"v":0.4,"s":"r"},{"t":29.3,"v":0.25,"s":"r"},{"t":29.32,"v":0.5,"s":"r"},{"t":29.34,"v":0.17,"s":"r"},{"t":29.36,"v":0.6,"s":"r"},{"t":29.38,"v":0.4,"s":"r"},{"t":29.4,"v":0.6,"s":"r"},{"t":29.43,"v":0.5,"s":"r"},{"t":29.46,"v":0.7,"s":"r"},{"t":29.5,"v":0.8,"s":"r"},{"t":29.52,"v":0.6,"s":"r"},{"t":29.55,"v":1.0,"s":"r"},{"t":29.58,"v":0.9,"s":"r"},{"t":29.6,"v":0.4,"s":"r"},{"t":29.62,"v":0.9,"s":"r"},{"t":29.65,"v":1.1,"s":"r"},{"t":29.7,"v":1.3,"s":"r"},{"t":29.75,"v":1.5,"s":"r"},{"t":29.8,"v":1.6,"s":"r"},{"t":29.85,"v":2.0,"s":"r"},{"t":29.9,"v":1.8,"s":"r"},{"t":29.95,"v":2.2,"s":"r"},{"t":30,"v":2.4,"s":"r"},{"t":30.05,"v":2.1,"s":"r"},{"t":30.1,"v":2.6,"s":"r"},{"t":30.15,"v":2.3,"s":"r"},{"t":30.2,"v":2.8,"s":"r"},{"t":30.25,"v":2.4,"s":"r"},{"t":30.3,"v":3.0,"s":"r"},{"t":30.35,"v":2.5,"s":"r"},{"t":30.4,"v":2.8,"s":"r"},{"t":30.45,"v":2.0,"s":"r"},{"t":30.5,"v":1.6,"s":"r"}
]},
"layer": [
{"mark": {"type": "line", "interpolate": "step-after", "strokeWidth": 1, "clip": true},
 "encoding": {
  "x": {"field": "t", "type": "quantitative", "scale": {"domain": [28.5, 30.5], "nice": false, "zero": false},
   "axis": {"orient": "bottom", "values": [28.5,28.5833,28.6667,28.75,28.8333,28.9167,29,29.0833,29.1667,29.25,29.3333,29.4167,29.5,29.5833,29.6667,29.75,29.8333,29.9167,30,30.0833,30.1667,30.25,30.3333,30.4167,30.5],
    "labelExpr": "abs(datum.value*2 - round(datum.value*2)) < 0.001 ? (datum.value == floor(datum.value) ? datum.value + ':00' : floor(datum.value) + ':12') : ''",
    "labelFontSize": 9,
    "tickSize": {"condition": {"test": "abs(datum.value*2 - round(datum.value*2)) < 0.001", "value": -8}, "value": -4},
    "labelPadding": 13, "title": "Date \u00a0 UT \u00a0 2001", "titleY": 34, "titleBaseline": "middle"}},
  "y": {"field": "v", "type": "quantitative", "scale": {"type": "log", "domain": [0.01, 1000], "nice": false},
   "axis": {"orient": "left", "values": [0.01,0.02,0.03,0.04,0.05,0.06,0.07,0.08,0.09,0.1,0.2,0.3,0.4,0.5,0.6,0.7,0.8,0.9,1,2,3,4,5,6,7,8,9,10,20,30,40,50,60,70,80,90,100,200,300,400,500,600,700,800,900,1000],
    "labelExpr": "abs(log(datum.value)/LN10 - round(log(datum.value)/LN10)) < 0.001 && round(log(datum.value)/LN10) % 2 == 0 ? ['10⁻²','10⁻¹','10⁰','10¹','10²','10³','10⁴','10⁵','10⁶'][round(log(datum.value)/LN10)+2] : ''",
    "tickSize": {"condition": [{"test": "abs(log(datum.value)/LN10 - round(log(datum.value)/LN10)) < 0.001 && round(log(datum.value)/LN10) % 2 == 0", "value": -10}, {"test": "abs(log(datum.value)/LN10 - round(log(datum.value)/LN10)) < 0.001", "value": -6}], "value": -3},
    "labelPadding": 12, "title": "Particles / (MeV/nuc cm ² sr \u00a0s)", "titleX": -34.5, "titleY": 124, "titleBaseline": "middle", "titleAngle": -90}},
  "color": {"field": "s", "type": "nominal", "scale": {"domain": ["g","b","r","rs"], "range": ["#4ce64c","#4d4df0","#f04d4d","#f08080"]}, "legend": null},
  "strokeDash": {"field": "s", "type": "nominal", "scale": {"domain": ["g","b","r","rs"], "range": [[1,0],[1,0],[1,0],[3,4]]}, "legend": null}
 }},
{"mark": {"type": "point", "opacity": 0},
 "encoding": {
  "x": {"field": "t", "type": "quantitative", "scale": {"domain": [28.5, 30.5], "nice": false, "zero": false},
   "axis": {"orient": "top", "values": [28.5,28.5833,28.6667,28.75,28.8333,28.9167,29,29.0833,29.1667,29.25,29.3333,29.4167,29.5,29.5833,29.6667,29.75,29.8333,29.9167,30,30.0833,30.1667,30.25,30.3333,30.4167,30.5], "labels": false, "title": null,
    "tickSize": {"condition": {"test": "abs(datum.value*2 - round(datum.value*2)) < 0.001", "value": -8}, "value": -4}}},
  "y": {"field": "v", "type": "quantitative", "scale": {"type": "log", "domain": [0.01, 1000], "nice": false},
   "axis": {"orient": "right", "values": [0.01,0.02,0.03,0.04,0.05,0.06,0.07,0.08,0.09,0.1,0.2,0.3,0.4,0.5,0.6,0.7,0.8,0.9,1,2,3,4,5,6,7,8,9,10,20,30,40,50,60,70,80,90,100,200,300,400,500,600,700,800,900,1000], "labels": false, "title": null,
    "tickSize": {"condition": [{"test": "abs(log(datum.value)/LN10 - round(log(datum.value)/LN10)) < 0.001 && round(log(datum.value)/LN10) % 2 == 0", "value": -10}, {"test": "abs(log(datum.value)/LN10 - round(log(datum.value)/LN10)) < 0.001", "value": -6}], "value": -3}}}
 }}
],
"resolve": {"axis": {"x": "independent", "y": "independent"}}
},
{
"width": 325, "height": 248,
"data": {"values": [
{"t":105,"v":800,"s":"g"},{"t":105.05,"v":600,"s":"g"},{"t":105.1,"v":500,"s":"g"},{"t":105.2,"v":380,"s":"g"},{"t":105.3,"v":316,"s":"g"},{"t":105.4,"v":275,"s":"g"},{"t":105.5,"v":245,"s":"g"},{"t":105.6,"v":220,"s":"g"},{"t":105.605,"v":600,"s":"g"},{"t":105.61,"v":4800,"s":"g"},{"t":105.62,"v":10000,"s":"g"},{"t":105.65,"v":16000,"s":"g"},{"t":105.7,"v":19000,"s":"g"},{"t":105.8,"v":16000,"s":"g"},{"t":105.9,"v":12000,"s":"g"},{"t":106,"v":8700,"s":"g"},{"t":106.1,"v":8500,"s":"g"},{"t":106.2,"v":5800,"s":"g"},{"t":106.3,"v":4400,"s":"g"},{"t":106.4,"v":3550,"s":"g"},{"t":106.5,"v":2450,"s":"g"},{"t":106.6,"v":1700,"s":"g"},{"t":106.7,"v":980,"s":"g"},{"t":106.8,"v":740,"s":"g"},{"t":106.9,"v":600,"s":"g"},{"t":107,"v":500,"s":"g"},{"t":107.2,"v":380,"s":"g"},{"t":107.4,"v":316,"s":"g"},{"t":107.6,"v":263,"s":"g"},{"t":107.8,"v":224,"s":"g"},{"t":108,"v":200,"s":"g"},
{"t":105,"v":1.9,"s":"b"},{"t":105.03,"v":2.5,"s":"b"},{"t":105.06,"v":3.2,"s":"b"},{"t":105.09,"v":2.3,"s":"b"},{"t":105.12,"v":3.5,"s":"b"},{"t":105.15,"v":2.8,"s":"b"},{"t":105.17,"v":4.5,"s":"b"},{"t":105.2,"v":3.5,"s":"b"},{"t":105.23,"v":4.0,"s":"b"},{"t":105.26,"v":3.2,"s":"b"},{"t":105.3,"v":3.8,"s":"b"},{"t":105.33,"v":3.0,"s":"b"},{"t":105.36,"v":3.5,"s":"b"},{"t":105.39,"v":2.6,"s":"b"},{"t":105.42,"v":3.0,"s":"b"},{"t":105.45,"v":2.3,"s":"b"},{"t":105.48,"v":2.0,"s":"b"},{"t":105.52,"v":1.8,"s":"b"},{"t":105.55,"v":1.5,"s":"b"},{"t":105.57,"v":2.2,"s":"b"},{"t":105.6,"v":1.6,"s":"b"},{"t":105.62,"v":0.6,"s":"b"},{"t":105.64,"v":0.4,"s":"b"},{"t":105.66,"v":0.9,"s":"b"},{"t":105.69,"v":0.6,"s":"b"},{"t":105.72,"v":1.3,"s":"b"},{"t":105.75,"v":0.7,"s":"b"},{"t":105.78,"v":1.1,"s":"b"},{"t":105.82,"v":0.6,"s":"b"},{"t":105.85,"v":1.2,"s":"b"},{"t":105.87,"v":0.4,"s":"b"},{"t":105.9,"v":1.5,"s":"b"},{"t":105.93,"v":1.0,"s":"b"},{"t":105.96,"v":1.8,"s":"b"},{"t":105.98,"v":1.1,"s":"b"},{"t":106,"v":1.6,"s":"b"},{"t":106.02,"v":2.0,"s":"b"},{"t":106.05,"v":2.8,"s":"b"},{"t":106.08,"v":4.0,"s":"b"},{"t":106.1,"v":4.5,"s":"b"},{"t":106.12,"v":3.5,"s":"b"},{"t":106.14,"v":4.0,"s":"b"},{"t":106.15,"v":1.5,"s":"b"},{"t":106.17,"v":2.2,"s":"b"},{"t":106.2,"v":8.0,"s":"b"},{"t":106.25,"v":9.0,"s":"b"},{"t":106.3,"v":8.5,"s":"b"},{"t":106.35,"v":10,"s":"b"},{"t":106.4,"v":11,"s":"b"},{"t":106.45,"v":12,"s":"b"},{"t":106.5,"v":14,"s":"b"},{"t":106.55,"v":12,"s":"b"},{"t":106.6,"v":16,"s":"b"},{"t":106.65,"v":14,"s":"b"},{"t":106.7,"v":17,"s":"b"},{"t":106.75,"v":14,"s":"b"},{"t":106.8,"v":17,"s":"b"},{"t":106.85,"v":13,"s":"b"},{"t":106.9,"v":18,"s":"b"},{"t":106.95,"v":20,"s":"b"},{"t":107,"v":22,"s":"b"},{"t":107.05,"v":20,"s":"b"},{"t":107.1,"v":25,"s":"b"},{"t":107.15,"v":23,"s":"b"},{"t":107.2,"v":28,"s":"b"},{"t":107.3,"v":30,"s":"b"},{"t":107.4,"v":32,"s":"b"},{"t":107.5,"v":33,"s":"b"},{"t":107.55,"v":30,"s":"b"},{"t":107.6,"v":28,"s":"b"},{"t":107.7,"v":25,"s":"b"},{"t":107.75,"v":22,"s":"b"},{"t":107.8,"v":24,"s":"b"},{"t":107.85,"v":23,"s":"b"},{"t":107.88,"v":20,"s":"b"},{"t":107.9,"v":30,"s":"b"},{"t":107.95,"v":45,"s":"b"},{"t":108,"v":55,"s":"b"},
{"t":105,"v":0.6,"s":"rs"},{"t":105.2,"v":0.6,"s":"rs"},{"t":105.25,"v":1.0,"s":"rs"},{"t":105.26,"v":0.6,"s":"rs"},{"t":105.6,"v":0.6,"s":"rs"},{"t":105.62,"v":1.0,"s":"rs"},{"t":105.63,"v":0.6,"s":"rs"},{"t":106,"v":0.6,"s":"rs"},{"t":106.2,"v":1.0,"s":"rs"},{"t":106.21,"v":0.6,"s":"rs"},{"t":106.42,"v":0.6,"s":"rs"},
{"t":106.42,"v":0.6,"s":"r"},{"t":106.44,"v":1.2,"s":"r"},{"t":106.47,"v":0.6,"s":"r"},{"t":106.52,"v":0.6,"s":"r"},{"t":106.55,"v":0.22,"s":"r"},{"t":106.57,"v":0.6,"s":"r"},{"t":106.6,"v":1.5,"s":"r"},{"t":106.62,"v":0.6,"s":"r"},{"t":106.64,"v":2.5,"s":"r"},{"t":106.66,"v":0.35,"s":"r"},{"t":106.68,"v":0.4,"s":"r"},{"t":106.7,"v":0.6,"s":"r"},{"t":106.74,"v":3.2,"s":"r"},{"t":106.76,"v":1.0,"s":"r"},{"t":106.8,"v":0.6,"s":"r"},{"t":106.87,"v":0.6,"s":"r"},{"t":106.89,"v":0.3,"s":"r"},{"t":106.91,"v":1.0,"s":"r"},{"t":106.93,"v":0.6,"s":"r"},{"t":107.05,"v":0.6,"s":"r"},{"t":107.08,"v":1.0,"s":"r"},{"t":107.1,"v":0.6,"s":"r"},{"t":107.2,"v":0.6,"s":"r"},{"t":107.22,"v":1.4,"s":"r"},{"t":107.25,"v":0.4,"s":"r"},{"t":107.27,"v":1.4,"s":"r"},{"t":107.3,"v":0.6,"s":"r"},{"t":107.35,"v":0.6,"s":"r"},{"t":107.38,"v":1.3,"s":"r"},{"t":107.41,"v":0.6,"s":"r"},{"t":107.45,"v":1.6,"s":"r"},{"t":107.5,"v":0.6,"s":"r"},{"t":107.55,"v":1.3,"s":"r"},{"t":107.6,"v":0.6,"s":"r"},{"t":107.65,"v":1.6,"s":"r"},{"t":107.7,"v":0.6,"s":"r"},{"t":107.75,"v":1.0,"s":"r"},{"t":107.8,"v":0.6,"s":"r"},{"t":107.85,"v":1.0,"s":"r"},{"t":107.9,"v":0.6,"s":"r"},{"t":107.95,"v":1.5,"s":"r"},{"t":107.97,"v":0.6,"s":"r"},{"t":108,"v":1.0,"s":"r"}
]},
"layer": [
{"mark": {"type": "line", "interpolate": "step-after", "strokeWidth": 1, "clip": true},
 "encoding": {
  "x": {"field": "t", "type": "quantitative", "scale": {"domain": [105, 108], "nice": false, "zero": false},
   "axis": {"orient": "bottom", "values": [105,105.125,105.25,105.375,105.5,105.625,105.75,105.875,106,106.125,106.25,106.375,106.5,106.625,106.75,106.875,107,107.125,107.25,107.375,107.5,107.625,107.75,107.875,108],
    "labelExpr": "datum.value == floor(datum.value) ? '' + datum.value : ''",
    "tickSize": {"condition": {"test": "datum.value == floor(datum.value)", "value": -8}, "value": -4},
    "labelPadding": 14, "title": "Date \u00a0 UT \u00a0 2001", "titleY": 36, "titleBaseline": "middle"}},
  "y": {"field": "v", "type": "quantitative", "scale": {"type": "log", "domain": [0.1, 100000], "nice": false},
   "axis": {"orient": "left", "values": [0.1,0.2,0.3,0.4,0.5,0.6,0.7,0.8,0.9,1,2,3,4,5,6,7,8,9,10,20,30,40,50,60,70,80,90,100,200,300,400,500,600,700,800,900,1000,2000,3000,4000,5000,6000,7000,8000,9000,10000,20000,30000,40000,50000,60000,70000,80000,90000,100000],
    "labelExpr": "abs(log(datum.value)/LN10 - round(log(datum.value)/LN10)) < 0.001 && abs(round(log(datum.value)/LN10) % 2) == 1 ? ['10⁻²','10⁻¹','10⁰','10¹','10²','10³','10⁴','10⁵','10⁶'][round(log(datum.value)/LN10)+2] : ''",
    "tickSize": {"condition": [{"test": "abs(log(datum.value)/LN10 - round(log(datum.value)/LN10)) < 0.001 && abs(round(log(datum.value)/LN10) % 2) == 1", "value": -10}, {"test": "abs(log(datum.value)/LN10 - round(log(datum.value)/LN10)) < 0.001", "value": -6}], "value": -3},
    "labelPadding": 12, "title": "Particles / (MeV/nuc cm ² sr \u00a0s)", "titleX": -39, "titleY": 124, "titleBaseline": "middle", "titleAngle": -90}},
  "color": {"field": "s", "type": "nominal", "scale": {"domain": ["g","b","r","rs"], "range": ["#4ce64c","#4d4df0","#f04d4d","#f08080"]}, "legend": null},
  "strokeDash": {"field": "s", "type": "nominal", "scale": {"domain": ["g","b","r","rs"], "range": [[1,0],[1,0],[1,0],[3,4]]}, "legend": null}
 }},
{"mark": {"type": "point", "opacity": 0},
 "encoding": {
  "x": {"field": "t", "type": "quantitative", "scale": {"domain": [105, 108], "nice": false, "zero": false},
   "axis": {"orient": "top", "values": [105,105.125,105.25,105.375,105.5,105.625,105.75,105.875,106,106.125,106.25,106.375,106.5,106.625,106.75,106.875,107,107.125,107.25,107.375,107.5,107.625,107.75,107.875,108], "labels": false, "title": null,
    "tickSize": {"condition": {"test": "datum.value == floor(datum.value)", "value": -8}, "value": -4}}},
  "y": {"field": "v", "type": "quantitative", "scale": {"type": "log", "domain": [0.1, 100000], "nice": false},
   "axis": {"orient": "right", "values": [0.1,0.2,0.3,0.4,0.5,0.6,0.7,0.8,0.9,1,2,3,4,5,6,7,8,9,10,20,30,40,50,60,70,80,90,100,200,300,400,500,600,700,800,900,1000,2000,3000,4000,5000,6000,7000,8000,9000,10000,20000,30000,40000,50000,60000,70000,80000,90000,100000], "labels": false, "title": null,
    "tickSize": {"condition": [{"test": "abs(log(datum.value)/LN10 - round(log(datum.value)/LN10)) < 0.001 && abs(round(log(datum.value)/LN10) % 2) == 1", "value": -10}, {"test": "abs(log(datum.value)/LN10 - round(log(datum.value)/LN10)) < 0.001", "value": -6}], "value": -3}}}
 }}
],
"resolve": {"axis": {"x": "independent", "y": "independent"}}
}
], "spacing": 126, "bounds": "flush"}
]
}
